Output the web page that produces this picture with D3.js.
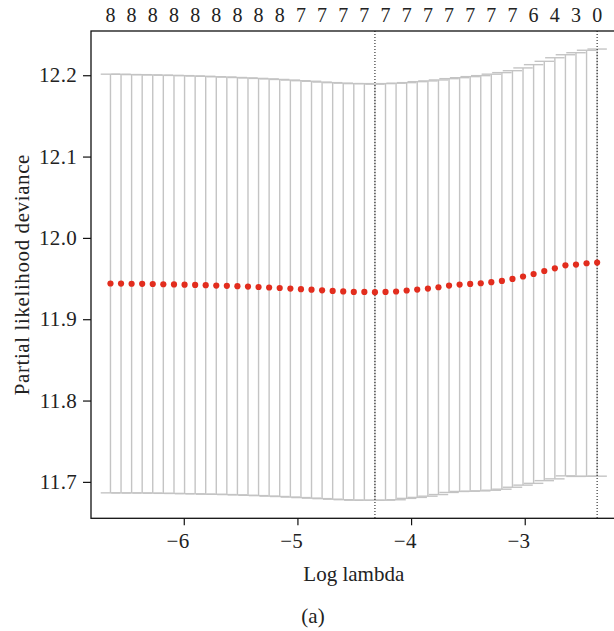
<!DOCTYPE html>
<html>
<head>
<meta charset="utf-8">
<script src="https://cdn.jsdelivr.net/npm/d3@7"></script>
<style>
  body { margin: 0; background: #fff; }
  svg text { font-family: "Liberation Serif", "Times New Roman", serif; fill: #222; }
</style>
</head>
<body>
<div id="chart"></div>
<script>
// cross-validation curve (one entry per lambda)
var logLambda = [
  -6.645, -6.552, -6.459, -6.366, -6.273, -6.180, -6.086, -5.993, -5.900, -5.807,
  -5.714, -5.621, -5.528, -5.435, -5.342, -5.249, -5.156, -5.062, -4.969, -4.876,
  -4.783, -4.690, -4.597, -4.504, -4.411, -4.318, -4.225, -4.132, -4.039, -3.946,
  -3.852, -3.759, -3.666, -3.573, -3.480, -3.387, -3.294, -3.201, -3.108, -3.015,
  -2.922, -2.828, -2.735, -2.642, -2.549, -2.456, -2.363
];
var cvm = [
  11.9439, 11.9438, 11.9436, 11.9435, 11.9433, 11.9430, 11.9428, 11.9425, 11.9422, 11.9418,
  11.9414, 11.9411, 11.9406, 11.9401, 11.9396, 11.9390, 11.9384, 11.9377, 11.9370, 11.9363,
  11.9355, 11.9348, 11.9342, 11.9336, 11.9336, 11.9332, 11.9336, 11.9341, 11.9353, 11.9365,
  11.9377, 11.9393, 11.9414, 11.9426, 11.9434, 11.9442, 11.9455, 11.9471, 11.9495, 11.9525,
  11.9556, 11.9593, 11.9626, 11.9663, 11.9672, 11.9688, 11.9696
];
var cvsd = [
  0.2574, 0.2574, 0.2572, 0.2572, 0.2571, 0.2571, 0.2570, 0.2570, 0.2569, 0.2569,
  0.2567, 0.2567, 0.2566, 0.2566, 0.2565, 0.2565, 0.2564, 0.2564, 0.2563, 0.2563,
  0.2561, 0.2561, 0.2561, 0.2561, 0.2561, 0.2558, 0.2561, 0.2561, 0.2556, 0.2556,
  0.2553, 0.2549, 0.2544, 0.2544, 0.2549, 0.2553, 0.2558, 0.2561, 0.2561, 0.2565,
  0.2574, 0.2578, 0.2589, 0.2589, 0.2605, 0.2619, 0.2626
];
// number of non-zero coefficients at each lambda
var nzero = [
  8, 8, 8, 8, 8, 8, 8, 8, 8, 8, 8, 8, 8, 8, 8, 8, 8, 8, 7, 7,
  7, 7, 7, 7, 7, 7, 7, 7, 7, 7, 7, 7, 7, 7, 7, 7, 7, 7, 7, 7,
  6, 5, 4, 3, 3, 1, 0
];
var xTicks = [-6, -5, -4, -3];
var yTicks = [11.7, 11.8, 11.9, 12.0, 12.1, 12.2];

var width = 614;
var height = 631;
// plot region (the right edge runs just past the window, as in the source)
var plotLeft = 91, plotRight = 616.6, plotTop = 31, plotBottom = 518.3;
var fontSize = "21px";

var upper = cvm.map((d, i) => d + cvsd[i]);
var lower = cvm.map((d, i) => d - cvsd[i]);

// lambda.min and lambda.1se like glmnet does it
var iMin = d3.minIndex(cvm);
var limit = cvm[iMin] + cvsd[iMin];
var i1se = d3.max(d3.range(cvm.length).filter(i => cvm[i] <= limit));

// R style 4% padding on both axes
function pad(ext) {
  var r = ext[1] - ext[0];
  return [ext[0] - 0.04 * r, ext[1] + 0.04 * r];
}

var svg = d3.select("#chart")
  .append("svg")
  .attr("width", width)
  .attr("height", height);

var xScale = d3.scaleLinear()
  .domain(pad(d3.extent(logLambda)))
  .range([plotLeft, plotRight]);

var yScale = d3.scaleLinear()
  .domain(pad([d3.min(lower), d3.max(upper)]))
  .range([plotBottom, plotTop]);

// error bars, caps are 2% of the x range each side
var barw = (d3.max(logLambda) - d3.min(logLambda)) * 0.02;
var bars = svg.append("g")
  .attr("stroke", "#c4c4c4")
  .attr("stroke-width", 1.4);

bars.selectAll("line.v")
  .data(logLambda)
  .enter()
  .append("line")
  .attr("class", "v")
  .attr("x1", d => xScale(d))
  .attr("x2", d => xScale(d))
  .attr("y1", (d, i) => yScale(upper[i]))
  .attr("y2", (d, i) => yScale(lower[i]));

[upper, lower].forEach(function(arr) {
  bars.selectAll(null)
    .data(logLambda)
    .enter()
    .append("line")
    .attr("x1", d => xScale(d - barw))
    .attr("x2", d => xScale(d + barw))
    .attr("y1", (d, i) => yScale(arr[i]))
    .attr("y2", (d, i) => yScale(arr[i]));
});

// dotted lines at lambda.min and lambda.1se
svg.selectAll("line.ref")
  .data([logLambda[iMin], logLambda[i1se]])
  .enter()
  .append("line")
  .attr("class", "ref")
  .attr("x1", d => xScale(d))
  .attr("x2", d => xScale(d))
  .attr("y1", plotTop)
  .attr("y2", plotBottom)
  .attr("stroke", "#222")
  .attr("stroke-width", 1.1)
  .attr("stroke-dasharray", "1,2");

// mean deviance points
svg.selectAll("circle")
  .data(cvm)
  .enter()
  .append("circle")
  .attr("cx", (d, i) => xScale(logLambda[i]))
  .attr("cy", d => yScale(d))
  .attr("r", 3.1)
  .attr("fill", "#e22d1e");

// box
svg.append("rect")
  .attr("x", plotLeft)
  .attr("y", plotTop)
  .attr("width", plotRight - plotLeft)
  .attr("height", plotBottom - plotTop)
  .attr("fill", "none")
  .attr("stroke", "#111")
  .attr("stroke-width", 1.3);

// axes
var xAxis = svg.append("g")
  .attr("transform", "translate(0," + plotBottom + ")")
  .call(d3.axisBottom(xScale).tickValues(xTicks).tickFormat(d3.format("d")).tickSize(7).tickPadding(8));
var yAxis = svg.append("g")
  .attr("transform", "translate(" + plotLeft + ",0)")
  .call(d3.axisLeft(yScale).tickValues(yTicks).tickFormat(d3.format(".1f")).tickSize(8).tickPadding(6));

[xAxis, yAxis].forEach(function(g) {
  g.select(".domain").remove();
  g.selectAll(".tick line").attr("stroke", "#111").attr("stroke-width", 1.2);
  g.selectAll("text").style("font-size", fontSize).style("letter-spacing", "0.3px").attr("fill", "#222");
});
// the minus signs push the x labels a little left of their ticks in the source
xAxis.selectAll("text").attr("dx", "-0.3em");

// counts of non-zero coefficients along the top (every other one fits)
svg.selectAll("text.nz")
  .data(nzero.filter((d, i) => i % 2 === 0))
  .enter()
  .append("text")
  .attr("class", "nz")
  .attr("x", (d, i) => xScale(logLambda[i * 2]))
  .attr("y", 22)
  .attr("text-anchor", "middle")
  .style("font-size", "20px")
  .text(d => d);

svg.append("text")
  .attr("x", (plotLeft + plotRight) / 2)
  .attr("y", 581)
  .attr("text-anchor", "middle")
  .style("font-size", fontSize)
  .text("Log lambda");

svg.append("text")
  .attr("transform", "translate(29," + (plotTop + plotBottom) / 2 + ") rotate(-90)")
  .attr("text-anchor", "middle")
  .style("font-size", fontSize)
  .style("letter-spacing", "0.6px")
  .text("Partial likelihood deviance");

svg.append("text")
  .attr("x", 313)
  .attr("y", 623)
  .attr("text-anchor", "middle")
  .style("font-size", fontSize)
  .text("(a)");
</script>
</body>
</html>
